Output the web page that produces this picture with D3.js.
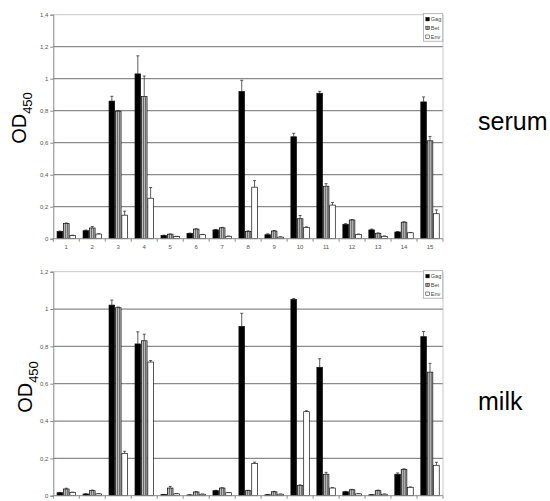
<!DOCTYPE html>
<html>
<head>
<meta charset="utf-8">
<script src="https://cdn.jsdelivr.net/npm/d3@7"></script>
<style>
  body { margin: 0; background: #fff; }
  svg { display: block; font-family: Arial, "Liberation Sans", sans-serif; }
</style>
</head>
<body>
<script>
"use strict";

// categories and series
const samples = ["1","2","3","4","5","6","7","8","9","10","11","12","13","14","15"];
const series = ["Gag", "Bet", "Env"];

// serum values (OD450) and upper error
const serumGag = [0.045,0.05,0.86,1.03,0.02,0.033,0.055,0.92,0.025,0.637,0.909,0.09,0.055,0.042,0.855];
const serumGagErr = [0.003,0.004,0.03,0.113,0.002,0.002,0.003,0.07,0.006,0.022,0.012,0.004,0.005,0.003,0.031];
const serumBet = [0.095,0.067,0.797,0.888,0.028,0.06,0.068,0.046,0.048,0.125,0.328,0.117,0.034,0.103,0.612];
const serumBetErr = [0.003,0.009,0.004,0.129,0.002,0.002,0.003,0.003,0.003,0.02,0.016,0.003,0.002,0.003,0.027];
const serumEnv = [0.02,0.029,0.147,0.253,0.013,0.025,0.015,0.322,0.01,0.071,0.21,0.027,0.015,0.037,0.156];
const serumEnvErr = [0.002,0.002,0.025,0.067,0.002,0.002,0.002,0.041,0.002,0.003,0.016,0.002,0.002,0.002,0.024];

// milk values (OD450) and upper error
const milkGag = [0.016,0.009,1.021,0.813,0.006,0.004,0.027,0.907,0.005,1.052,0.688,0.021,0.005,0.115,0.852];
const milkGagErr = [0.002,0.002,0.027,0.065,0.001,0.001,0.002,0.07,0.001,0.004,0.046,0.002,0.001,0.007,0.028];
const milkBet = [0.036,0.027,1.007,0.83,0.041,0.02,0.041,0.027,0.021,0.055,0.115,0.032,0.027,0.141,0.662];
const milkBetErr = [0.004,0.003,0.004,0.035,0.009,0.002,0.002,0.002,0.002,0.003,0.01,0.002,0.003,0.003,0.047];
const milkEnv = [0.018,0.01,0.227,0.716,0.01,0.008,0.016,0.173,0.008,0.45,0.041,0.01,0.008,0.045,0.163];
const milkEnvErr = [0.001,0.001,0.011,0.008,0.001,0.001,0.001,0.007,0.001,0.005,0.002,0.001,0.001,0.002,0.016];

// y tick values
const serumTicks = [0, 0.2, 0.4, 0.6, 0.8, 1, 1.2, 1.4];
const milkTicks = [0, 0.2, 0.4, 0.6, 0.8, 1, 1.2];

const W = 550, H = 501;
const svg = d3.select("body").append("svg").attr("width", W).attr("height", H);

// striped pattern for the Bet bars
const defs = svg.append("defs");
const pat = defs.append("pattern").attr("id", "stripe")
  .attr("patternUnits", "userSpaceOnUse").attr("width", 2).attr("height", 4);
pat.append("rect").attr("width", 2).attr("height", 4).attr("fill", "#6a6a6a");
pat.append("rect").attr("x", 1).attr("width", 1).attr("height", 4).attr("fill", "#bdbdbd");

const fills = {Gag: "#000", Bet: "url(#stripe)", Env: "#fff"};
const fmt = v => String(+v.toFixed(1)).replace(".", ",");

const left = 53.3, right = 443;
const x = d3.scaleBand().domain(samples).range([left, right])
  .paddingInner(0.29).paddingOuter(0.145);
const xs = d3.scaleBand().domain(series).range([0, x.bandwidth()]).paddingInner(0.12);

function panel(cfg) {
  const y = d3.scaleLinear().domain([0, cfg.max]).range([cfg.bottom, cfg.top]);
  const g = svg.append("g");

  // gridlines
  g.selectAll(".grid").data(cfg.ticks.filter(t => t > 0))
    .enter().append("line")
    .attr("x1", left).attr("x2", right)
    .attr("y1", d => y(d)).attr("y2", d => y(d))
    .attr("stroke", d => d === cfg.max ? "#c8c8c8" : "#8a8a8a")
    .attr("stroke-width", d => d === cfg.max ? 1 : 1.3);

  // right border
  g.append("line").attr("x1", right).attr("x2", right)
    .attr("y1", cfg.top).attr("y2", cfg.bottom)
    .attr("stroke", "#c8c8c8");

  // y axis
  const ya = g.append("g").attr("transform", `translate(${left},0)`)
    .call(d3.axisLeft(y).tickValues(cfg.ticks).tickSize(3).tickFormat(fmt));
  ya.select(".domain").attr("stroke", "#888");
  ya.selectAll(".tick line").attr("stroke", "#888");
  ya.selectAll(".tick text").attr("font-size", 6).attr("fill", "#555").attr("x", -5);

  // bars
  const rows = samples.map((s, i) => ({s, vals: series.map(k => ({
    k, v: cfg.data[k][i], e: cfg.err[k][i]}))}));
  const grp = g.selectAll(".cat").data(rows).enter().append("g")
    .attr("transform", d => `translate(${x(d.s)},0)`);

  // error bars (upper only)
  grp.selectAll(".err").data(d => d.vals).enter().append("path")
    .attr("d", d => {
      const cx = xs(d.k) + xs.bandwidth() / 2;
      const yt = y(d.v + d.e);
      return `M${cx},${y(d.v)}V${yt}M${cx - 1.5},${yt}H${cx + 1.5}`;
    })
    .attr("stroke", "#333").attr("stroke-width", 0.8).attr("fill", "none");

  grp.selectAll(".bar").data(d => d.vals).enter().append("rect")
    .attr("x", d => xs(d.k))
    .attr("width", xs.bandwidth())
    .attr("y", d => y(d.v))
    .attr("height", d => y(0) - y(d.v))
    .attr("fill", d => fills[d.k])
    .attr("stroke", "#111").attr("stroke-width", 0.7);

  // x axis
  const xa = g.append("g").attr("transform", `translate(0,${cfg.bottom})`);
  xa.append("line").attr("x1", left).attr("x2", right).attr("stroke", "#888");
  xa.selectAll(".xt").data(d3.range(samples.length + 1)).enter().append("line")
    .attr("x1", i => left + i * x.step()).attr("x2", i => left + i * x.step())
    .attr("y1", 0).attr("y2", 3).attr("stroke", "#888");
  if (cfg.xLabels) {
    xa.selectAll(".xl").data(samples).enter().append("text")
      .attr("x", d => x(d) + x.bandwidth() / 2).attr("y", 10)
      .attr("text-anchor", "middle").attr("font-size", 6).attr("fill", "#555")
      .text(d => d);
  }

  // legend
  const lg = g.append("g").attr("transform", `translate(423.3,${cfg.top - 1})`);
  lg.append("rect").attr("width", 19.5).attr("height", 27.5)
    .attr("fill", "#fff").attr("stroke", "#999").attr("stroke-width", 0.7);
  series.forEach((k, i) => {
    const yy = 5.5 + i * 8.8;
    lg.append("rect").attr("x", 2.5).attr("y", yy - 1.8).attr("width", 3.5).attr("height", 3.5)
      .attr("fill", fills[k]).attr("stroke", "#111").attr("stroke-width", 0.5);
    lg.append("text").attr("x", 7.5).attr("y", yy + 1.8)
      .attr("font-size", 5.5).attr("fill", "#444").text(k);
  });

  // y label OD450
  const yl = svg.append("text")
    .attr("transform", `translate(${cfg.labX},${cfg.labY}) rotate(-90)`)
    .attr("text-anchor", "middle").attr("font-size", cfg.labSize).attr("fill", "#000");
  yl.append("tspan").text("OD");
  yl.append("tspan").attr("font-size", cfg.labSize * 0.65).attr("dy", cfg.labSize * 0.3).text("450");

  // panel name
  svg.append("text").attr("x", 478).attr("y", cfg.nameY)
    .attr("font-size", 25).attr("fill", "#000").text(cfg.name);
}

panel({
  top: 14.7, bottom: 238.7, max: 1.4, ticks: serumTicks, xLabels: true,
  data: {Gag: serumGag, Bet: serumBet, Env: serumEnv},
  err: {Gag: serumGagErr, Bet: serumBetErr, Env: serumEnvErr},
  labX: 26, labY: 118, labSize: 20, name: "serum", nameY: 130
});

// the x labels of the lower panel fall below the picture's edge
panel({
  top: 271.7, bottom: 495.7, max: 1.2, ticks: milkTicks, xLabels: false,
  data: {Gag: milkGag, Bet: milkBet, Env: milkEnv},
  err: {Gag: milkGagErr, Bet: milkBetErr, Env: milkEnvErr},
  labX: 32, labY: 387, labSize: 20, name: "milk", nameY: 410
});
</script>
</body>
</html>
